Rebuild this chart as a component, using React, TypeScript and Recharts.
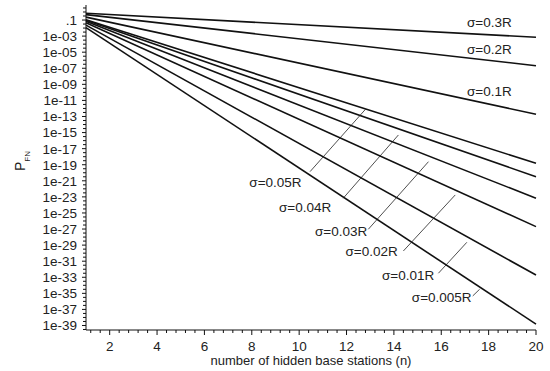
import React from "react";
import {
  LineChart,
  Line,
  XAxis,
  YAxis,
  ReferenceLine,
  ReferenceDot,
} from "recharts";

// number of hidden base stations at the two ends of each line
const nValues = [1, 20];

const sigmaNames = [
  "0.3R",
  "0.2R",
  "0.1R",
  "0.05R",
  "0.04R",
  "0.03R",
  "0.02R",
  "0.01R",
  "0.005R",
];

// P_FN at n = 1 and at n = 20
const pAtStart = [0.69, 0.47, 0.23, 0.11, 0.093, 0.069, 0.046, 0.023, 0.0115];
const pAtEnd = [7.1e-4, 2.1e-7, 1.9e-13, 1.5e-19, 3.2e-21, 6.8e-24, 2.0e-27, 1.9e-33, 1.5e-39];

// x ticks every 0.4, labelled on even numbers
const xTicks = Array.from({ length: 48 }, (_, i) => +(1.2 + i * 0.4).toFixed(1));
// y ticks every half decade, labelled on odd exponents
const yTickExps = Array.from({ length: 81 }, (_, i) => 0.5 - i * 0.5);
const yTicks = yTickExps.map((e) => Math.pow(10, e));

// label text with its anchor point, and the leader line drawn from it
const sigmaLabels = [
  { name: "0.3R", n: 18.03, p: 10 ** -1.21 },
  { name: "0.2R", n: 18.03, p: 10 ** -4.64 },
  { name: "0.1R", n: 18.03, p: 10 ** -9.91 },
  { name: "0.05R", n: 9.0, p: 10 ** -21.14 },
  { name: "0.04R", n: 10.25, p: 10 ** -24.25 },
  { name: "0.03R", n: 11.77, p: 10 ** -27.24 },
  { name: "0.02R", n: 13.06, p: 10 ** -29.81 },
  { name: "0.01R", n: 14.6, p: 10 ** -32.8 },
  { name: "0.005R", n: 16.02, p: 10 ** -35.53 },
];

const leaders = [
  [10.46, -19.86, 12.81, -12.07],
  [11.86, -23.17, 14.19, -15.3],
  [12.92, -27.03, 15.46, -18.62],
  [14.4, -29.73, 16.59, -22.76],
  [15.88, -32.5, 17.08, -28.65],
  [17.33, -35.32, 17.62, -34.49],
];

const data = nValues.map((n, i) => {
  const row: Record<string, number> = { n };
  sigmaNames.forEach((s, k) => {
    row[s] = i === 0 ? pAtStart[k] : pAtEnd[k];
  });
  return row;
});

const FONT = "'Liberation Sans', Arial, sans-serif";

const XTick = (props: any) => {
  const { x, y, payload } = props;
  const ay = y - 8;
  const v = payload.value;
  const major = Math.abs(v - Math.round(v)) < 1e-6 && Math.round(v) % 2 === 0;
  return (
    <g>
      <line x1={x} x2={x} y1={ay} y2={ay + (major ? 5 : 3)} stroke="#111" strokeWidth={1} />
      {major && (
        <text x={x} y={ay + 21} textAnchor="middle" fontSize={13.5} fontFamily={FONT} fill="#222">
          {Math.round(v)}
        </text>
      )}
    </g>
  );
};

const YTick = (props: any) => {
  const { x, y, payload } = props;
  const ax = x + 8;
  const e = Math.round(Math.log10(payload.value) * 2) / 2;
  const labelled = Number.isInteger(e) && e < 0 && Math.abs(e) % 2 === 1;
  const text = e === -1 ? ".1" : "1e-" + String(-e).padStart(2, "0");
  return (
    <g>
      <line x1={ax - (labelled ? 4 : 3)} x2={ax} y1={y} y2={y} stroke="#111" strokeWidth={1} />
      {labelled && (
        <text x={ax - 9} y={y} dy="0.36em" textAnchor="end" fontSize={13.5} fontFamily={FONT} fill="#222">
          {text}
        </text>
      )}
    </g>
  );
};

const YLabel = () => (
  <g transform="translate(25,171) rotate(-90)">
    <text x={0} y={0} fontSize={14} fontFamily={FONT} fill="#222">
      P
      <tspan fontSize={8} dy={5}>
        FN
      </tspan>
    </text>
  </g>
);

export default function App() {
  return (
    <div style={{ position: "absolute", left: 0, top: 0, background: "#fff" }}>
      <LineChart
        width={550}
        height={371}
        data={data}
        margin={{ top: 5, right: 14, bottom: 0, left: 0 }}
      >
        <XAxis
          dataKey="n"
          type="number"
          domain={[1, 20]}
          ticks={xTicks}
          interval={0}
          height={41}
          tickSize={6}
          tickMargin={2}
          tickLine={false}
          tick={<XTick />}
          axisLine={{ stroke: "#111", strokeWidth: 1 }}
          label={{
            value: "number of hidden base stations (n)",
            position: "insideBottom",
            offset: 6,
            fontSize: 13,
            fontFamily: FONT,
            fill: "#222",
          }}
        />
        <YAxis
          type="number"
          scale="log"
          domain={[Math.pow(10, -39.56), Math.pow(10, 0.87)]}
          allowDataOverflow
          ticks={yTicks}
          interval={0}
          width={86}
          tickSize={6}
          tickMargin={2}
          tickLine={false}
          tick={<YTick />}
          axisLine={{ stroke: "#111", strokeWidth: 1 }}
          label={<YLabel />}
        />
        {sigmaNames.map((s) => (
          <Line
            key={s}
            type="linear"
            dataKey={s}
            stroke="#111"
            strokeWidth={1.6}
            dot={false}
            activeDot={false}
            isAnimationActive={false}
          />
        ))}
        {leaders.map((l, i) => (
          <ReferenceLine
            key={"ld" + i}
            segment={[
              { x: l[0], y: 10 ** l[1] },
              { x: l[2], y: 10 ** l[3] },
            ]}
            stroke="#222"
            strokeWidth={0.8}
          />
        ))}
        {sigmaLabels.map((lb) => (
          <ReferenceDot
            key={"lb" + lb.name}
            x={lb.n}
            y={lb.p}
            r={1}
            fill="none"
            stroke="none"
            label={{
              value: "σ=" + lb.name,
              position: "center",
              fontSize: 13.5,
              fontFamily: FONT,
              fill: "#222",
            }}
          />
        ))}
      </LineChart>
    </div>
  );
}
